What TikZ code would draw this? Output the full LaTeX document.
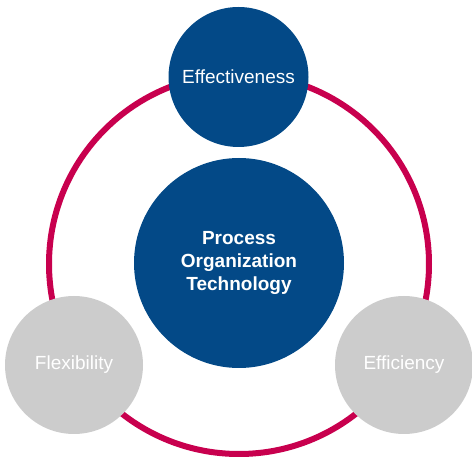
\documentclass[tikz,border=0pt]{standalone}
\usepackage{fontspec}
\setmainfont{Liberation Sans}
\usepackage{tikz}
\usetikzlibrary{positioning}
\definecolor{dkblue}{RGB}{3,73,135}
\definecolor{crimson}{RGB}{200,0,78}
\definecolor{ltgray}{RGB}{204,204,204}

\tikzset{
	bigring/.style={circle,draw=crimson,line width=6pt,minimum size=380pt,inner sep=0pt},
	bluedot/.style={circle,fill=dkblue,text=white,inner sep=0pt,font=\fontsize{19}{23}\selectfont},
	graydot/.style={circle,fill=ltgray,text=white,inner sep=0pt,minimum size=138pt,font=\fontsize{19}{23}\selectfont}
}

\begin{document}
\begin{tikzpicture}[x=1pt,y=1pt]
		\useasboundingbox (0,0) rectangle (472,458);
		\node[bigring] (ring) at (239,194) {};
		\node[bluedot,minimum size=210pt,align=center,font=\fontsize{19}{23.3}\selectfont\bfseries] (core) at (239,195) {Process\\Organization\\Technology};
		\node[bluedot,minimum size=140pt] (effect) at (238.5,381) {Effectiveness};
		\node[graydot] (flex) at (74,93) {Flexibility};
		\node[graydot] (effic) at (404,93) {Efficiency};
	\end{tikzpicture}
\end{document}
